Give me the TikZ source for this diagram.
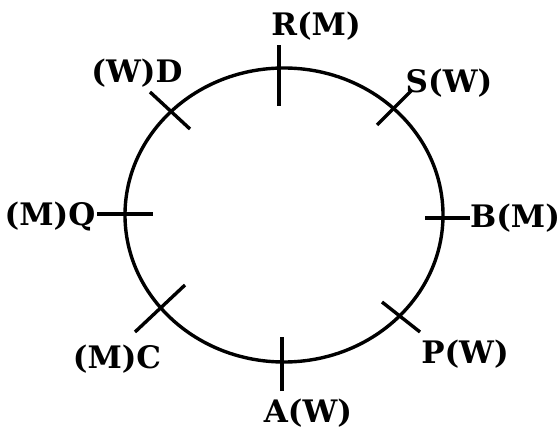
\documentclass[tikz,border=0pt]{standalone}
\usepackage{fontspec}
\setmainfont{DejaVu Serif}
\begin{document}
\begin{tikzpicture}[
  x=1pt, y=-1pt,
  every node/.style={font=\bfseries\fontsize{31}{37}\selectfont},
  seat/.style={anchor=base, inner sep=0pt},
  rim/.style={line width=3.4pt},
]
\useasboundingbox (0,0) rectangle (560,431);

% Table (slightly wider than tall)
\pgfmathsetmacro{\cx}{284}
\pgfmathsetmacro{\cy}{215}
\draw[rim] (\cx,\cy) ellipse [x radius=159, y radius=147];

% Seat ticks: name / outer end / inner end
\foreach \n/\xa/\ya/\xb/\yb in {
  R/279/45/279/106,
  S/412/90/377/125,
  B/470/218/425/218,
  P/420/332/382/302,
  A/282/391/282/337,
  C/135/332/185/285,
  Q/97/214/153/214,
  D/150/92/190/129%
} {
  \coordinate (\n out) at (\xa,\ya);
  \coordinate (\n in) at (\xb,\yb);
  \draw[rim] (\n out) -- (\n in);
}

% Labels
\node[seat] (lR) at (316,35)  {R(M)};
\node[seat] (lS) at (449,92)  {S(W)};
\node[seat] (lB) at (515,227) {B(M)};
\node[seat] (lP) at (465,363) {P(W)};
\node[seat] (lA) at (308,422) {A(W)};
\node[seat] (lC) at (117,368) {(M)C};
\node[seat] (lQ) at (50,225)  {(M)Q};
\node[seat] (lD) at (137,82)  {(W)D};

\end{tikzpicture}
\end{document}
